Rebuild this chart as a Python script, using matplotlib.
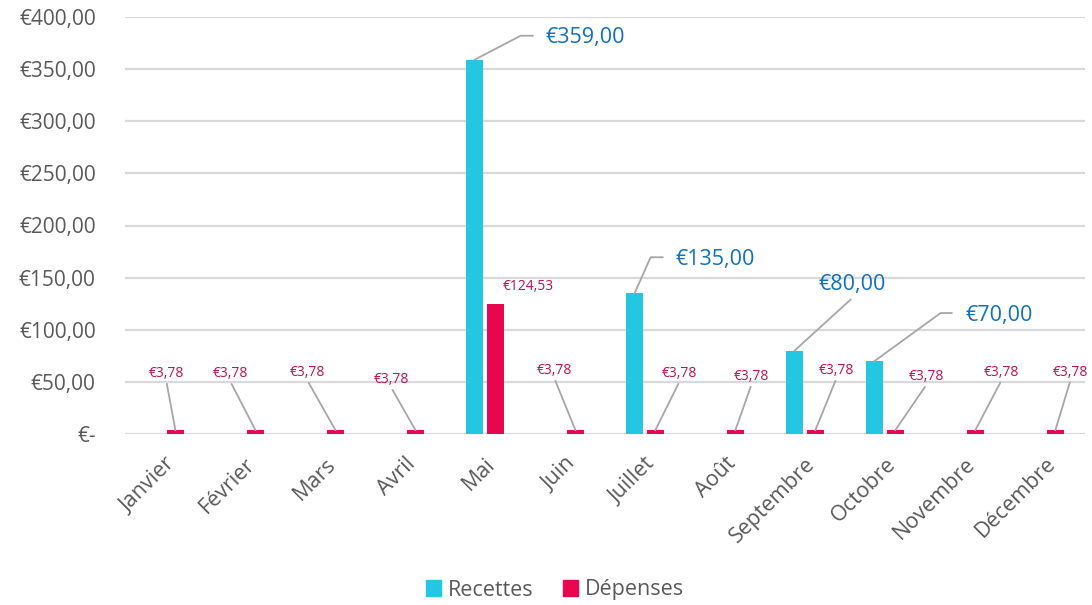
import matplotlib
matplotlib.use("Agg")
import matplotlib.pyplot as plt
from matplotlib.lines import Line2D
from matplotlib.patches import Patch
import numpy as np

plt.rcParams['font.family'] = ['Open Sans', 'DejaVu Sans']

months = ["Janvier", "Février", "Mars", "Avril", "Mai", "Juin", "Juillet",
          "Août", "Septembre", "Octobre", "Novembre", "Décembre"]
recettes = [0, 0, 0, 0, 359.00, 0, 135.00, 0, 80.00, 70.00, 0, 0]
depenses = [3.78, 3.78, 3.78, 3.78, 124.53, 3.78, 3.78, 3.78, 3.78, 3.78, 3.78, 3.78]
yticks = [0, 50, 100, 150, 200, 250, 300, 350, 400]
ytick_labels = ["€-", "€50,00", "€100,00", "€150,00", "€200,00", "€250,00",
                "€300,00", "€350,00", "€400,00"]

def eur(v):
    return "€" + f"{v:.2f}".replace(".", ",")

C_REC = "#25C6E1"
C_DEP = "#E8074F"
C_REC_LBL = "#0F70C0"
C_DEP_LBL = "#C0104F"
C_TXT = "#595959"
C_GRID = "#D9D9D9"
C_LEAD = "#A6A6A6"

W, H = 1092, 605
fig = plt.figure(figsize=(W / 100, H / 100), dpi=100)
ax = fig.add_axes([125 / W, 1 - 434 / H, 960 / W, 417 / H])

x = np.arange(len(months))
bw = 0.22
off = 0.13
ax.bar(x - off, recettes, width=bw, color=C_REC, zorder=3)
ax.bar(x + off, depenses, width=bw, color=C_DEP, zorder=3)

ax.set_xlim(-0.5, len(months) - 0.5)
ax.set_ylim(0, 400)
ax.set_yticks(yticks)
ax.set_yticklabels(ytick_labels, fontsize=15, color=C_TXT)
ax.yaxis.grid(True, color=C_GRID, linewidth=1.6, zorder=0)
ax.set_axisbelow(True)
for s in ax.spines.values():
    s.set_visible(False)
ax.tick_params(axis='both', length=0)
ax.tick_params(axis='y', pad=21)
ax.set_xticks(x)
ax.set_xticklabels(months, rotation=45, ha='right', va='top',
                   rotation_mode='anchor', fontsize=15.5, color=C_TXT)
ax.tick_params(axis='x', pad=14)

fig.canvas.draw()

def disp(xd, yd):
    return ax.transData.transform((xd, yd))

def fig_line(pts, **kw):
    xs = [p[0] / W for p in pts]
    ys = [p[1] / H for p in pts]
    fig.add_artist(Line2D(xs, ys, transform=fig.transFigure, **kw))

# Recettes labels: (line points offsets from bar top in px, text offset, ha)
rec_layout = {
    4: ([(0, 0), (46, 24), (58, 24)], (71, 22), 'left'),
    6: ([(0, 0), (16, 36), (28, 36)], (41, 34), 'left'),
    8: ([(0, 0), (56, 51)], (58, 66), 'center'),
    9: ([(0, 0), (66, 48), (77, 48)], (91, 46), 'left'),
}
for i, (pts, (tx, ty), ha) in rec_layout.items():
    bx, by = disp(x[i] - off, recettes[i])
    fig_line([(bx + dx, by + dy) for dx, dy in pts], color=C_LEAD, linewidth=1.3)
    fig.text((bx + tx) / W, (by + ty) / H, eur(recettes[i]), ha=ha, va='center',
             fontsize=15.5, color=C_REC_LBL)

# Dépenses labels: text centre offset from bar top (px); line drawn if far
dep_layout = [(-9, 57), (-25, 57), (-28, 58), (-24, 51), (33, 18), (-21, 60),
              (24, 57), (16, 54), (21, 60), (31, 54), (26, 58), (15, 58)]
for i, (tx, ty) in enumerate(dep_layout):
    bx, by = disp(x[i] + off, depenses[i])
    fig.text((bx + tx) / W, (by + ty) / H, eur(depenses[i]), ha='center',
             va='center', fontsize=10, color=C_DEP_LBL)
    if i != 4:
        fig_line([(bx, by), (bx + tx * 0.95, by + ty - 11)], color=C_LEAD,
                 linewidth=1.3)

handles = [Patch(color=C_REC, label="Recettes"), Patch(color=C_DEP, label="Dépenses")]
leg = fig.legend(handles=handles, loc='center', bbox_to_anchor=(555 / W, 1 - 590 / H),
                 ncol=2, frameon=False, fontsize=15.5, handlelength=0.7,
                 handleheight=0.7, handletextpad=0.3, columnspacing=1.4)
for t in leg.get_texts():
    t.set_color(C_TXT)

fig.savefig("out.png", dpi=100)
